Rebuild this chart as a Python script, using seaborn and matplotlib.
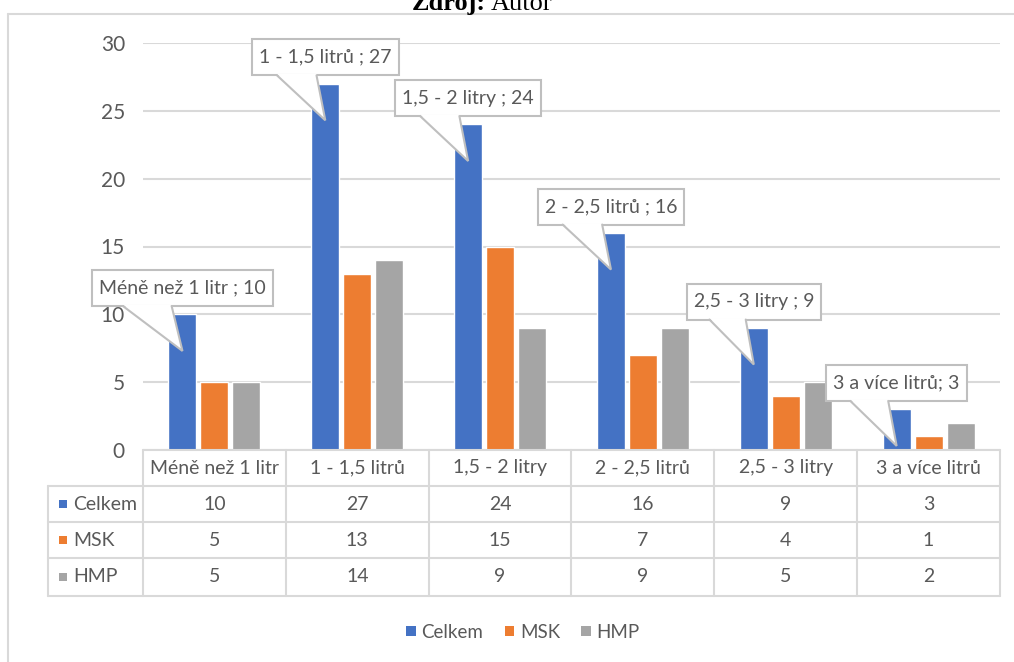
import numpy as np
import pandas as pd
import matplotlib
matplotlib.use("Agg")
import matplotlib.pyplot as plt
import matplotlib.transforms as mtransforms
from matplotlib.patches import Rectangle, Polygon
from matplotlib.lines import Line2D
import seaborn as sns

# ---- data -------------------------------------------------------------
categories = ["Méně než 1 litr", "1 - 1,5 litrů", "1,5 - 2 litry",
              "2 - 2,5 litrů", "2,5 - 3 litry", "3 a více litrů"]
series_names = ["Celkem", "MSK", "HMP"]
celkem = [10, 27, 24, 16, 9, 3]
msk = [5, 13, 15, 7, 4, 1]
hmp = [5, 14, 9, 9, 5, 2]
callout_seps = [" ; ", " ; ", " ; ", " ; ", " ; ", "; "]
y_ticks = [0, 5, 10, 15, 20, 25, 30]
source_label = ("Zdroj:", "Autor")

# ---- style ------------------------------------------------------------
colors = ["#4472C4", "#ED7D31", "#A5A5A5"]
TEXT = "#595959"
GRID = "#D9D9D9"
BOX_EDGE = "#BFBFBF"
FS = 14
W, H = 1014, 662

sns.set_theme(style="white")
plt.rcParams["font.family"] = ["Lato", "DejaVu Sans"]

df = pd.DataFrame({
    "kategorie": categories * 3,
    "skupina": np.repeat(series_names, len(categories)),
    "pocet": celkem + msk + hmp,
})

fig = plt.figure(figsize=(W / 100, H / 100), dpi=100)
fig.patch.set_facecolor("white")

# pixel coordinates measured from the top-left corner of the figure
pxT = mtransforms.Affine2D().scale(1 / W, -1 / H).translate(0, 1) + fig.transFigure


def px_rect(x0, y0, x1, y1):
    return [x0 / W, 1 - y1 / H, (x1 - x0) / W, (y1 - y0) / H]


ax = fig.add_axes(px_rect(143, 43, 1000, 450))
sns.barplot(data=df, x="kategorie", y="pocet", hue="skupina",
            order=categories, hue_order=series_names, palette=colors,
            width=0.671, gap=0.125, saturation=1, errorbar=None,
            legend=False, ax=ax, zorder=3)

ax.set_xlim(-0.5, len(categories) - 0.5)
ax.set_ylim(0, 30)
ax.set_yticks(y_ticks)
ax.set_xticks([])
ax.set_xlabel("")
ax.set_ylabel("")
ax.yaxis.grid(True, color=GRID, lw=1.5)
ax.set_axisbelow(True)
for s in ax.spines.values():
    s.set_visible(False)
ax.tick_params(axis="y", length=0, pad=13, labelsize=15, labelcolor=TEXT)

# ---- outer chart frame --------------------------------------------------
fig.add_artist(Line2D([8, 8], [14, H], transform=pxT, color=GRID, lw=1.5))
fig.add_artist(Line2D([8, W], [14, 14], transform=pxT, color=GRID, lw=1.5))

# source line (partly cut off by the top edge)
fig.text(486 / W, 1 - 10 / H, source_label[0], transform=fig.transFigure,
         ha="right", va="baseline", fontsize=19, fontweight="bold",
         family="Liberation Serif", color="black")
fig.text(491 / W, 1 - 10 / H, source_label[1], transform=fig.transFigure,
         ha="left", va="baseline", fontsize=19,
         family="Liberation Serif", color="black")

# ---- data table below the axis -----------------------------------------
tblT = mtransforms.blended_transform_factory(ax.transData, pxT)
row_lines = [450, 486, 522, 558, 596]
row_centers = [504, 540, 577]
left_px = 48
x_lo, x_hi = -0.5, len(categories) - 0.5
right_px = ax.transData.transform((x_hi, 0))[0] * W / fig.bbox.width

for k in range(len(categories) + 1):
    xv = x_lo + k
    fig.add_artist(Line2D([xv, xv], [row_lines[0], row_lines[-1]],
                          transform=tblT, color=GRID, lw=1.5))
fig.add_artist(Line2D([x_lo, x_hi], [row_lines[0]] * 2, transform=tblT,
                      color=GRID, lw=1.5))
for yl in row_lines[1:]:
    fig.add_artist(Line2D([left_px, right_px], [yl, yl], transform=pxT,
                          color=GRID, lw=1.5))
fig.add_artist(Line2D([left_px, left_px], [row_lines[1], row_lines[-1]],
                      transform=pxT, color=GRID, lw=1.5))

for i, cat in enumerate(categories):
    fig.text(i, 468, cat, transform=tblT, ha="center", va="center",
             fontsize=FS, color=TEXT)

for name, vals, col, yc in zip(series_names, [celkem, msk, hmp], colors, row_centers):
    fig.add_artist(Rectangle((59, yc - 4), 8, 8, transform=pxT,
                             facecolor=col, edgecolor="none"))
    fig.text(73, yc, name, transform=pxT, ha="left", va="center",
             fontsize=FS, color=TEXT)
    for i, v in enumerate(vals):
        fig.text(i, yc, str(v), transform=tblT, ha="center", va="center",
                 fontsize=FS, color=TEXT)

# ---- legend -------------------------------------------------------------
handles = [Rectangle((0, 0), 1, 1, facecolor=c, edgecolor="none") for c in colors]
fig.legend(handles, series_names, loc="center", ncol=3, frameon=False,
           bbox_to_anchor=(523 / W, 1 - 632 / H), fontsize=13.5,
           handlelength=0.5, handleheight=0.5, handletextpad=0.3,
           columnspacing=1.15, labelcolor=TEXT)

# ---- callouts on the "Celkem" bars ------------------------------------------
fig.canvas.draw()
renderer = fig.canvas.get_renderer()
blue_bars = ax.containers[0]
for bar, cat, val, sep in zip(blue_bars, categories, celkem, callout_seps):
    xc = bar.get_x() + bar.get_width() / 2
    tx, ty = ax.transData.transform((xc, val - 2.7))
    tip_x = tx * W / fig.bbox.width
    tip_y = H - ty * H / fig.bbox.height
    box_bottom = tip_y - 45
    box_h = 36
    label = f"{cat}{sep}{val}"
    t = fig.text(tip_x, box_bottom - box_h / 2, label, transform=pxT,
                 ha="center", va="center", fontsize=FS, color=TEXT, zorder=12)
    tw = t.get_window_extent(renderer).width * W / fig.bbox.width
    bw = tw + 14
    bx0 = tip_x - bw / 2
    fig.add_artist(Rectangle((bx0, box_bottom - box_h), bw, box_h, transform=pxT,
                             facecolor="white", edgecolor=BOX_EDGE, lw=1.5,
                             zorder=9))
    b0 = bx0 + 0.17 * bw
    b1 = bx0 + 0.44 * bw
    fig.add_artist(Polygon([(b0, box_bottom - 1.5), (b1, box_bottom - 1.5),
                            (tip_x, tip_y)], closed=True, transform=pxT,
                           facecolor="white", edgecolor="none", zorder=10))
    fig.add_artist(Line2D([b0, tip_x, b1], [box_bottom, tip_y, box_bottom],
                          transform=pxT, color=BOX_EDGE, lw=1.5, zorder=11,
                          solid_joinstyle="miter"))

fig.savefig("out.png", dpi=100, facecolor="white")
